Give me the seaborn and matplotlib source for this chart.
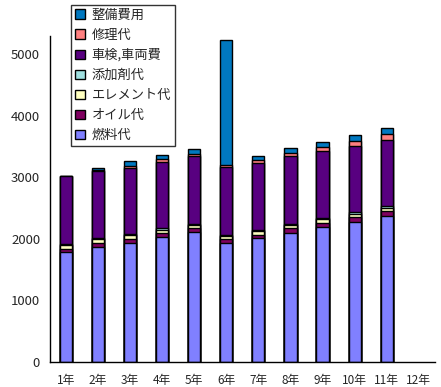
import numpy as np
import pandas as pd
import matplotlib
matplotlib.use('Agg')
import matplotlib.pyplot as plt
import matplotlib.patches as mpatches
from matplotlib.ticker import FixedLocator
import seaborn as sns

sns.set_style('white')
plt.rcParams['font.family'] = ['Noto Sans CJK JP', 'DejaVu Sans']

years = ['1年', '2年', '3年', '4年', '5年', '6年', '7年', '8年', '9年', '10年', '11年', '12年']
nan = np.nan
fuel     = [1780, 1870, 1930, 2030, 2110, 1930, 2010, 2100, 2190, 2280, 2370, nan]
oil      = [60, 60, 70, 60, 60, 60, 60, 70, 70, 70, 80, nan]
element  = [60, 60, 60, 60, 60, 60, 60, 50, 60, 60, 60, nan]
additive = [20, 20, 20, 20, 20, 20, 20, 20, 20, 20, 20, nan]
shaken   = [1110, 1090, 1070, 1080, 1090, 1100, 1090, 1100, 1090, 1080, 1080, nan]
repair   = [0, 20, 40, 50, 40, 30, 50, 60, 70, 80, 90, nan]
maint    = [0, 30, 80, 70, 80, 2040, 60, 80, 80, 100, 100, nan]

names = ['燃料代', 'オイル代', 'エレメント代', '添加剤代', '車検,車両費', '修理代', '整備費用']
series = [fuel, oil, element, additive, shaken, repair, maint]
colors = ['#8080FF', '#800060', '#FFFFC0', '#A0E0E0', '#580080', '#FF8080', '#0078C0']

df = pd.DataFrame(dict(zip(names, series)), index=years)
cum = df.cumsum(axis=1)

fig = plt.figure(figsize=(4.41, 3.87), dpi=100)
ax = fig.add_axes([0.113, 0.065, 0.873, 0.842])

# draw cumulative totals from the top layer down so lower layers cover upper ones
for name, col in zip(reversed(names), reversed(colors)):
    d = pd.DataFrame({'year': years, 'v': cum[name].values})
    sns.barplot(data=d, x='year', y='v', order=years, color=col, width=0.38,
                edgecolor='black', linewidth=1.0, saturation=1, ax=ax)

ax.set_xlim(-0.5, 11.5)
ax.set_ylim(0, 5300)
ax.set_yticks([0, 1000, 2000, 3000, 4000, 5000])
ax.set_xlabel('')
ax.set_ylabel('')
for s in ['top', 'right']:
    ax.spines[s].set_visible(False)
for s in ['left', 'bottom']:
    ax.spines[s].set_color('black')
    ax.spines[s].set_linewidth(1.0)

ax.tick_params(axis='y', which='major', direction='out', length=4, width=1, color='black',
               labelsize=9.5, pad=3)
ax.tick_params(axis='x', which='major', length=0, labelsize=8.5, pad=9)
ax.xaxis.set_minor_locator(FixedLocator(np.arange(0.5, 11.6, 1.0)))
ax.tick_params(axis='x', which='minor', direction='out', length=4, width=1, color='black')

handles = [mpatches.Patch(facecolor=c, edgecolor='black', linewidth=1.0, label=n)
           for n, c in zip(reversed(names), reversed(colors))]
leg = fig.legend(handles=handles, loc='upper left', bbox_to_anchor=(0.161, 0.988),
                 frameon=True, fancybox=False, edgecolor='black', fontsize=9.5,
                 handlelength=0.75, handleheight=0.75, handletextpad=0.5,
                 labelspacing=0.53, borderpad=0.3, borderaxespad=0)
leg.get_frame().set_linewidth(1.0)

fig.savefig('out.png', dpi=100)
